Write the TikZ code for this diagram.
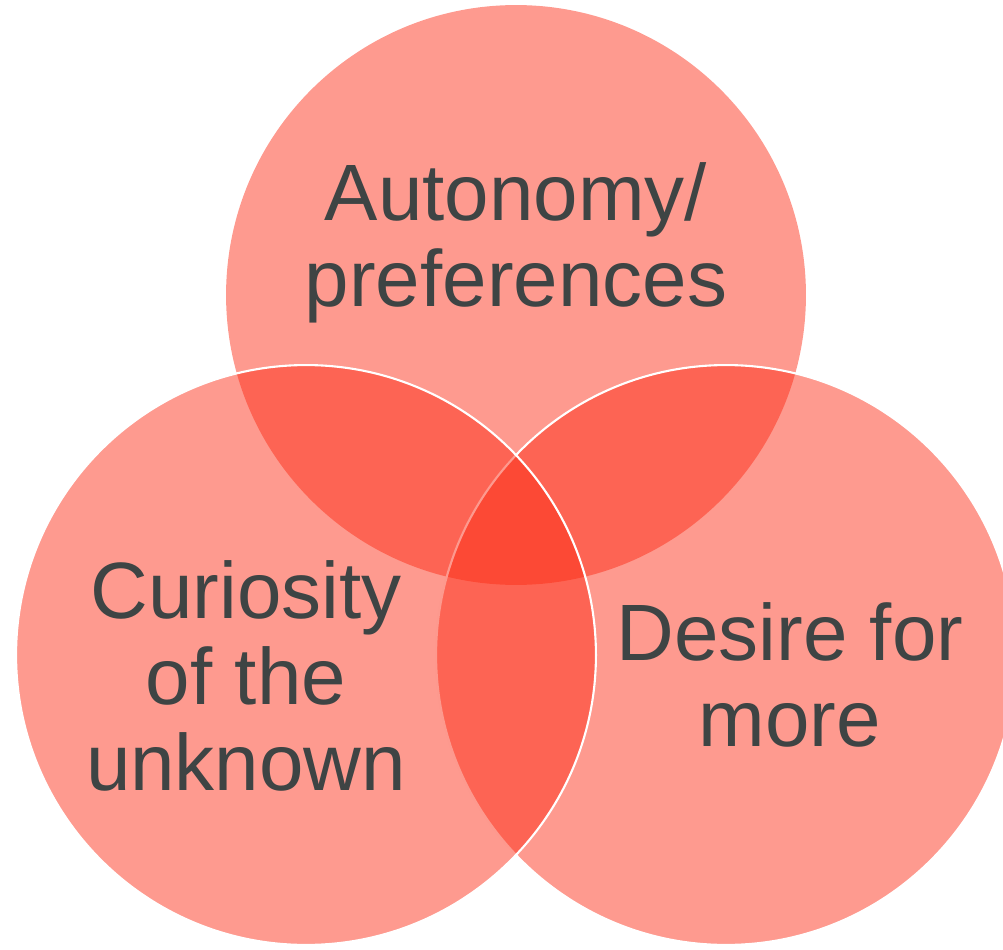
\documentclass[tikz,border=0pt]{standalone}
\usepackage{fontspec}
\setmainfont{Liberation Sans}
\usetikzlibrary{positioning}
\definecolor{vennred}{RGB}{252,43,20}
\definecolor{inkgrey}{RGB}{62,68,68}
\tikzset{
  venn/.style={circle, inner sep=0pt, minimum size=11.6cm, fill=vennred, fill opacity=0.48},
  vennrim/.style={venn, draw=white, draw opacity=1, line width=1.2pt},
  vennlabel/.style={align=center, text=inkgrey, inner sep=0pt, font=\fontsize{45.5}{49}\selectfont}
}

\begin{document}
\begin{tikzpicture}[x=0.02cm, y=-0.02cm]
            \useasboundingbox (0,0) rectangle (1003,949);
            \clip (0,0) rectangle (1003,949);
            \node[venn] (top) at (516,295) {};
            \node[vennrim] (right) at (726,655) {};
            \node[vennrim] (left) at (306,655) {};
            
            \node[vennlabel] (autonomy) at (516,243) {Autonomy/\\preferences};
            \node[vennlabel] (curiosity) at (246,676) {Curiosity\\of the\\unknown};
            \node[vennlabel] (desire) at (790,675) {Desire for\\more};
            
\end{tikzpicture}
\end{document}
